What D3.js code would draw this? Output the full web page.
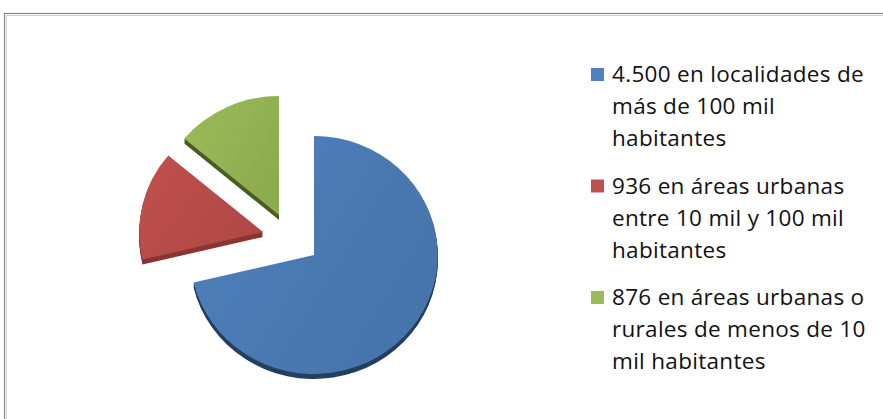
<!DOCTYPE html>
<html>
<head>
<meta charset="utf-8">
<script src="https://cdn.jsdelivr.net/npm/d3@7/dist/d3.min.js"></script>
<style>
  html, body { margin: 0; padding: 0; background: #fff; }
  svg { display: block; }
</style>
</head>
<body>
<svg id="chart" width="883" height="419"></svg>
<script>
// ---- data ----
const categories = [
  "4.500 en localidades de más de 100 mil habitantes",
  "936 en áreas urbanas entre 10 mil y 100 mil habitantes",
  "876 en áreas urbanas o rurales de menos de 10 mil habitantes"
];
const values = [4500, 936, 876];
const legendLines = [
  ["4.500 en localidades de", "más de 100 mil", "habitantes"],
  ["936 en áreas urbanas", "entre 10 mil y 100 mil", "habitantes"],
  ["876 en áreas urbanas o", "rurales de menos de 10", "mil habitantes"]
];

// ---- style ----
const colors = ["#4F81BD", "#C0504D", "#9BBB59"];
const colorsDark = ["#4774AA", "#B04845", "#8DAC50"];
const sideColors = ["#243f60", "#8b3532", "#4c5e22"];
const explode = [[0, 0], [-51, -23], [-35, -40]]; // offsets of exploded slices
const center = [314, 255];
const radius = 119;
const sx = 1.04, sy = 1.0;
const depth = 5;

const svg = d3.select("#chart");

// frame
svg.append("rect")
  .attr("x", 4.5).attr("y", 13.5)
  .attr("width", 1000).attr("height", 1000)
  .attr("fill", "none").attr("stroke", "#888").attr("stroke-width", 1.2);
svg.append("rect")
  .attr("x", 6.5).attr("y", 15.5)
  .attr("width", 1000).attr("height", 1000)
  .attr("fill", "none").attr("stroke", "#d0d0d0").attr("stroke-width", 1);

const defs = svg.append("defs");
colors.forEach((c, i) => {
  const g = defs.append("linearGradient").attr("id", "grad" + i)
    .attr("x1", "0%").attr("y1", "0%").attr("x2", "100%").attr("y2", "60%");
  g.append("stop").attr("offset", "0%").attr("stop-color", c);
  g.append("stop").attr("offset", "100%").attr("stop-color", colorsDark[i]);
});

const pie = d3.pie().sort(null).value(d => d).startAngle(0).endAngle(2 * Math.PI);
const arcs = pie(values);
const arc = d3.arc().innerRadius(0).outerRadius(radius);

const pieG = svg.append("g");

// sides (extruded)
arcs.forEach((a, i) => {
  for (let k = depth; k >= 1; k--) {
    pieG.append("path")
      .attr("d", arc(a))
      .attr("fill", sideColors[i])
      .attr("transform", `translate(${center[0] + explode[i][0]},${center[1] + explode[i][1] + k}) scale(${sx},${sy})`);
  }
});
// tops
arcs.forEach((a, i) => {
  pieG.append("path")
    .attr("d", arc(a))
    .attr("fill", `url(#grad${i})`)
    .attr("transform", `translate(${center[0] + explode[i][0]},${center[1] + explode[i][1]}) scale(${sx},${sy})`);
});

// legend
const legX = 591, textX = 612, firstBase = 82, groupStep = 111.5, lineStep = 32;
const leg = svg.append("g");
legendLines.forEach((lines, i) => {
  const base = firstBase + i * groupStep;
  leg.append("rect")
    .attr("x", legX).attr("y", base - 14)
    .attr("width", 13).attr("height", 13)
    .attr("fill", colors[i]);
  lines.forEach((t, j) => {
    leg.append("text")
      .attr("x", textX).attr("y", base + j * lineStep)
      .attr("font-family", "'Open Sans', sans-serif")
      .attr("font-size", 22.5)
      .attr("letter-spacing", 0.3)
      .attr("fill", "#111")
      .text(t);
  });
});
</script>
</body>
</html>
